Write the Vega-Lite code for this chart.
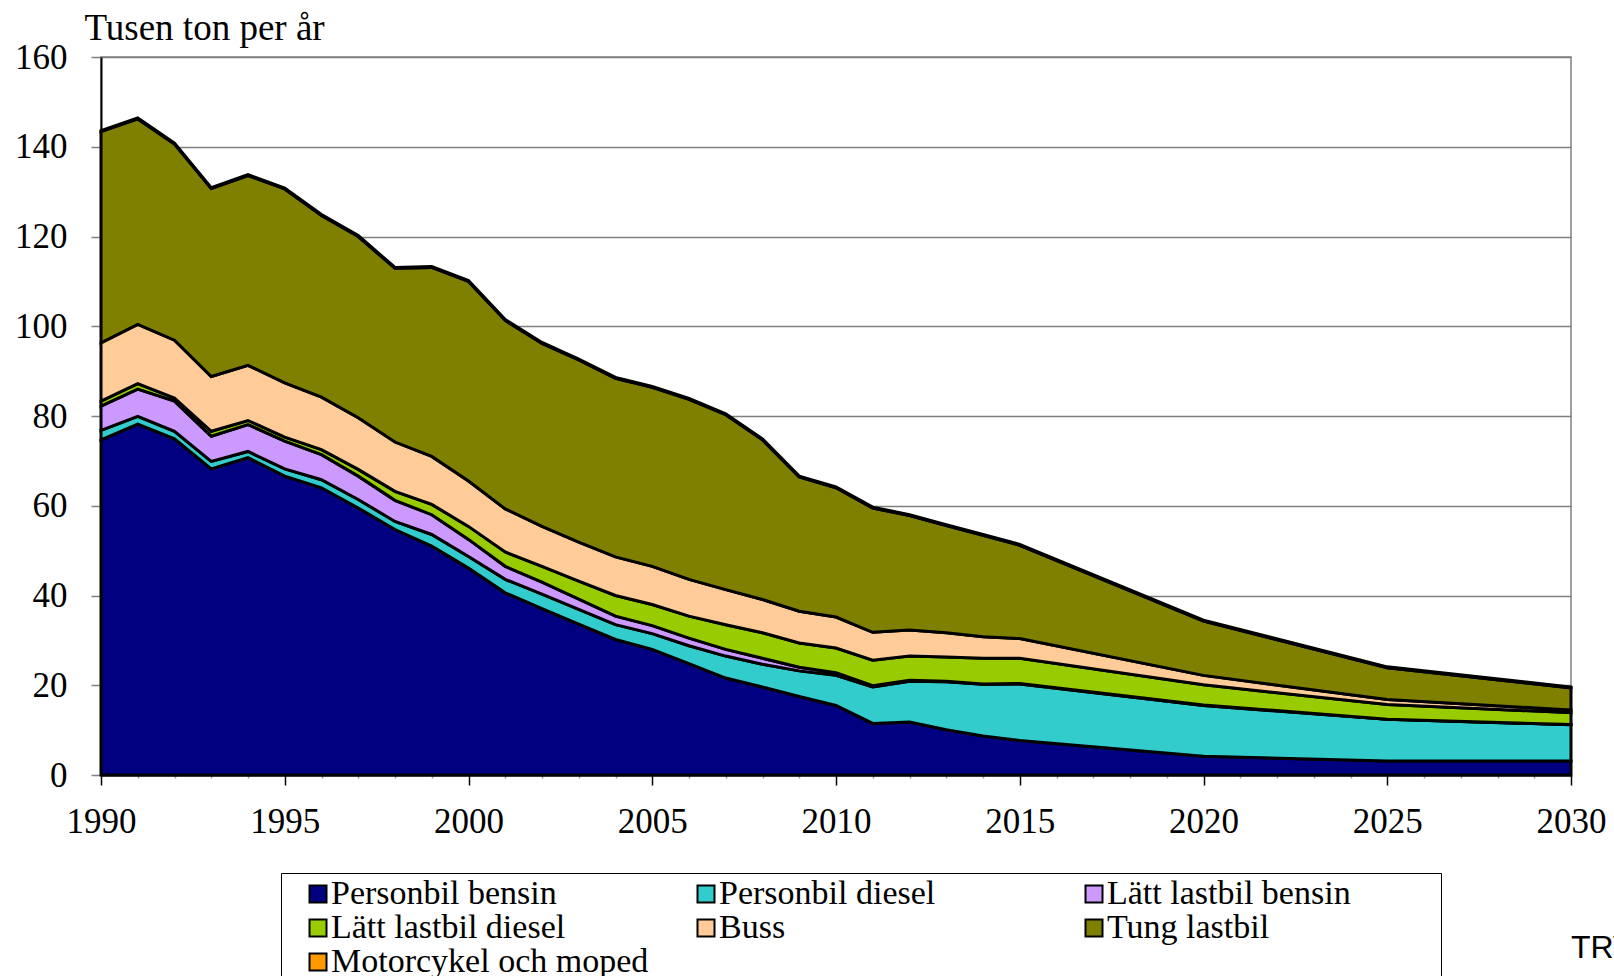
{
  "$schema": "https://vega.github.io/schema/vega-lite/v6.json",
  "autosize": {"type": "none"},
  "padding": {"left": 101, "top": 57, "right": 43, "bottom": 201},
  "width": 1470,
  "height": 718,
  "background": "white",
  "config": {
    "view": {"stroke": "#808080", "strokeWidth": 1.5},
    "font": "Liberation Serif"
  },
  "title": {"text": "TRV", "orient": "bottom", "anchor": "end", "align": "left", "font": "Liberation Sans", "fontSize": 32, "fontWeight": "normal", "color": "black", "dx": -35, "dy": -51, "offset": 0},
  "data": {"values": [
    {"year":1990,"typ":"Personbil bensin","v":74.7},{"year":1990,"typ":"Personbil diesel","v":2.1},{"year":1990,"typ":"Lätt lastbil bensin","v":5.4},{"year":1990,"typ":"Lätt lastbil diesel","v":1.1},{"year":1990,"typ":"Buss","v":13.0},{"year":1990,"typ":"Tung lastbil","v":47.1},{"year":1990,"typ":"Motorcykel och moped","v":0.2},
    {"year":1991,"typ":"Personbil bensin","v":78.2},{"year":1991,"typ":"Personbil diesel","v":1.7},{"year":1991,"typ":"Lätt lastbil bensin","v":6.1},{"year":1991,"typ":"Lätt lastbil diesel","v":1.2},{"year":1991,"typ":"Buss","v":13.2},{"year":1991,"typ":"Tung lastbil","v":45.8},{"year":1991,"typ":"Motorcykel och moped","v":0.2},
    {"year":1992,"typ":"Personbil bensin","v":74.9},{"year":1992,"typ":"Personbil diesel","v":1.7},{"year":1992,"typ":"Lätt lastbil bensin","v":6.7},{"year":1992,"typ":"Lätt lastbil diesel","v":0.7},{"year":1992,"typ":"Buss","v":12.9},{"year":1992,"typ":"Tung lastbil","v":43.7},{"year":1992,"typ":"Motorcykel och moped","v":0.2},
    {"year":1993,"typ":"Personbil bensin","v":68.2},{"year":1993,"typ":"Personbil diesel","v":1.7},{"year":1993,"typ":"Lätt lastbil bensin","v":5.6},{"year":1993,"typ":"Lätt lastbil diesel","v":1.1},{"year":1993,"typ":"Buss","v":12.2},{"year":1993,"typ":"Tung lastbil","v":41.9},{"year":1993,"typ":"Motorcykel och moped","v":0.2},
    {"year":1994,"typ":"Personbil bensin","v":70.7},{"year":1994,"typ":"Personbil diesel","v":1.4},{"year":1994,"typ":"Lätt lastbil bensin","v":6.0},{"year":1994,"typ":"Lätt lastbil diesel","v":0.9},{"year":1994,"typ":"Buss","v":12.3},{"year":1994,"typ":"Tung lastbil","v":42.3},{"year":1994,"typ":"Motorcykel och moped","v":0.2},
    {"year":1995,"typ":"Personbil bensin","v":66.6},{"year":1995,"typ":"Personbil diesel","v":1.6},{"year":1995,"typ":"Lätt lastbil bensin","v":6.2},{"year":1995,"typ":"Lätt lastbil diesel","v":0.9},{"year":1995,"typ":"Buss","v":12.1},{"year":1995,"typ":"Tung lastbil","v":43.2},{"year":1995,"typ":"Motorcykel och moped","v":0.2},
    {"year":1996,"typ":"Personbil bensin","v":64.0},{"year":1996,"typ":"Personbil diesel","v":1.8},{"year":1996,"typ":"Lätt lastbil bensin","v":5.6},{"year":1996,"typ":"Lätt lastbil diesel","v":1.1},{"year":1996,"typ":"Buss","v":11.7},{"year":1996,"typ":"Tung lastbil","v":40.5},{"year":1996,"typ":"Motorcykel och moped","v":0.2},
    {"year":1997,"typ":"Personbil bensin","v":59.5},{"year":1997,"typ":"Personbil diesel","v":1.9},{"year":1997,"typ":"Lätt lastbil bensin","v":5.2},{"year":1997,"typ":"Lätt lastbil diesel","v":1.5},{"year":1997,"typ":"Buss","v":11.5},{"year":1997,"typ":"Tung lastbil","v":40.4},{"year":1997,"typ":"Motorcykel och moped","v":0.2},
    {"year":1998,"typ":"Personbil bensin","v":54.7},{"year":1998,"typ":"Personbil diesel","v":1.8},{"year":1998,"typ":"Lätt lastbil bensin","v":4.7},{"year":1998,"typ":"Lätt lastbil diesel","v":2.0},{"year":1998,"typ":"Buss","v":11.0},{"year":1998,"typ":"Tung lastbil","v":38.7},{"year":1998,"typ":"Motorcykel och moped","v":0.2},
    {"year":1999,"typ":"Personbil bensin","v":51.0},{"year":1999,"typ":"Personbil diesel","v":2.6},{"year":1999,"typ":"Lätt lastbil bensin","v":4.4},{"year":1999,"typ":"Lätt lastbil diesel","v":2.3},{"year":1999,"typ":"Buss","v":10.7},{"year":1999,"typ":"Tung lastbil","v":42.1},{"year":1999,"typ":"Motorcykel och moped","v":0.2},
    {"year":2000,"typ":"Personbil bensin","v":46.1},{"year":2000,"typ":"Personbil diesel","v":2.6},{"year":2000,"typ":"Lätt lastbil bensin","v":3.8},{"year":2000,"typ":"Lätt lastbil diesel","v":2.9},{"year":2000,"typ":"Buss","v":10.1},{"year":2000,"typ":"Tung lastbil","v":44.5},{"year":2000,"typ":"Motorcykel och moped","v":0.2},
    {"year":2001,"typ":"Personbil bensin","v":40.6},{"year":2001,"typ":"Personbil diesel","v":3.0},{"year":2001,"typ":"Lätt lastbil bensin","v":2.9},{"year":2001,"typ":"Lätt lastbil diesel","v":3.2},{"year":2001,"typ":"Buss","v":9.6},{"year":2001,"typ":"Tung lastbil","v":42.0},{"year":2001,"typ":"Motorcykel och moped","v":0.2},
    {"year":2002,"typ":"Personbil bensin","v":37.1},{"year":2002,"typ":"Personbil diesel","v":3.2},{"year":2002,"typ":"Lätt lastbil bensin","v":2.7},{"year":2002,"typ":"Lätt lastbil diesel","v":3.5},{"year":2002,"typ":"Buss","v":8.9},{"year":2002,"typ":"Tung lastbil","v":40.8},{"year":2002,"typ":"Motorcykel och moped","v":0.2},
    {"year":2003,"typ":"Personbil bensin","v":33.6},{"year":2003,"typ":"Personbil diesel","v":3.3},{"year":2003,"typ":"Lätt lastbil bensin","v":2.3},{"year":2003,"typ":"Lätt lastbil diesel","v":4.0},{"year":2003,"typ":"Buss","v":8.7},{"year":2003,"typ":"Tung lastbil","v":40.6},{"year":2003,"typ":"Motorcykel och moped","v":0.2},
    {"year":2004,"typ":"Personbil bensin","v":30.2},{"year":2004,"typ":"Personbil diesel","v":3.3},{"year":2004,"typ":"Lätt lastbil bensin","v":1.9},{"year":2004,"typ":"Lätt lastbil diesel","v":4.6},{"year":2004,"typ":"Buss","v":8.6},{"year":2004,"typ":"Tung lastbil","v":39.8},{"year":2004,"typ":"Motorcykel och moped","v":0.2},
    {"year":2005,"typ":"Personbil bensin","v":28.0},{"year":2005,"typ":"Personbil diesel","v":3.5},{"year":2005,"typ":"Lätt lastbil bensin","v":1.8},{"year":2005,"typ":"Lätt lastbil diesel","v":4.7},{"year":2005,"typ":"Buss","v":8.5},{"year":2005,"typ":"Tung lastbil","v":39.9},{"year":2005,"typ":"Motorcykel och moped","v":0.2},
    {"year":2006,"typ":"Personbil bensin","v":24.8},{"year":2006,"typ":"Personbil diesel","v":4.0},{"year":2006,"typ":"Lätt lastbil bensin","v":1.7},{"year":2006,"typ":"Lätt lastbil diesel","v":4.9},{"year":2006,"typ":"Buss","v":8.2},{"year":2006,"typ":"Tung lastbil","v":40.1},{"year":2006,"typ":"Motorcykel och moped","v":0.2},
    {"year":2007,"typ":"Personbil bensin","v":21.6},{"year":2007,"typ":"Personbil diesel","v":4.9},{"year":2007,"typ":"Lätt lastbil bensin","v":1.5},{"year":2007,"typ":"Lätt lastbil diesel","v":5.5},{"year":2007,"typ":"Buss","v":7.8},{"year":2007,"typ":"Tung lastbil","v":39.0},{"year":2007,"typ":"Motorcykel och moped","v":0.2},
    {"year":2008,"typ":"Personbil bensin","v":19.6},{"year":2008,"typ":"Personbil diesel","v":5.1},{"year":2008,"typ":"Lätt lastbil bensin","v":1.3},{"year":2008,"typ":"Lätt lastbil diesel","v":5.7},{"year":2008,"typ":"Buss","v":7.4},{"year":2008,"typ":"Tung lastbil","v":35.6},{"year":2008,"typ":"Motorcykel och moped","v":0.2},
    {"year":2009,"typ":"Personbil bensin","v":17.5},{"year":2009,"typ":"Personbil diesel","v":5.7},{"year":2009,"typ":"Lätt lastbil bensin","v":0.8},{"year":2009,"typ":"Lätt lastbil diesel","v":5.4},{"year":2009,"typ":"Buss","v":7.1},{"year":2009,"typ":"Tung lastbil","v":29.9},{"year":2009,"typ":"Motorcykel och moped","v":0.2},
    {"year":2010,"typ":"Personbil bensin","v":15.5},{"year":2010,"typ":"Personbil diesel","v":6.7},{"year":2010,"typ":"Lätt lastbil bensin","v":0.6},{"year":2010,"typ":"Lätt lastbil diesel","v":5.5},{"year":2010,"typ":"Buss","v":6.9},{"year":2010,"typ":"Tung lastbil","v":28.8},{"year":2010,"typ":"Motorcykel och moped","v":0.2},
    {"year":2011,"typ":"Personbil bensin","v":11.5},{"year":2011,"typ":"Personbil diesel","v":8.1},{"year":2011,"typ":"Lätt lastbil bensin","v":0.3},{"year":2011,"typ":"Lätt lastbil diesel","v":5.7},{"year":2011,"typ":"Buss","v":6.2},{"year":2011,"typ":"Tung lastbil","v":27.7},{"year":2011,"typ":"Motorcykel och moped","v":0.2},
    {"year":2012,"typ":"Personbil bensin","v":11.8},{"year":2012,"typ":"Personbil diesel","v":9.1},{"year":2012,"typ":"Lätt lastbil bensin","v":0.2},{"year":2012,"typ":"Lätt lastbil diesel","v":5.4},{"year":2012,"typ":"Buss","v":5.8},{"year":2012,"typ":"Tung lastbil","v":25.5},{"year":2012,"typ":"Motorcykel och moped","v":0.2},
    {"year":2013,"typ":"Personbil bensin","v":10.1},{"year":2013,"typ":"Personbil diesel","v":10.7},{"year":2013,"typ":"Lätt lastbil bensin","v":0.1},{"year":2013,"typ":"Lätt lastbil diesel","v":5.4},{"year":2013,"typ":"Buss","v":5.4},{"year":2013,"typ":"Tung lastbil","v":23.9},{"year":2013,"typ":"Motorcykel och moped","v":0.2},
    {"year":2014,"typ":"Personbil bensin","v":8.7},{"year":2014,"typ":"Personbil diesel","v":11.5},{"year":2014,"typ":"Lätt lastbil bensin","v":0.1},{"year":2014,"typ":"Lätt lastbil diesel","v":5.7},{"year":2014,"typ":"Buss","v":4.8},{"year":2014,"typ":"Tung lastbil","v":22.6},{"year":2014,"typ":"Motorcykel och moped","v":0.2},
    {"year":2015,"typ":"Personbil bensin","v":7.7},{"year":2015,"typ":"Personbil diesel","v":12.6},{"year":2015,"typ":"Lätt lastbil bensin","v":0.1},{"year":2015,"typ":"Lätt lastbil diesel","v":5.6},{"year":2015,"typ":"Buss","v":4.4},{"year":2015,"typ":"Tung lastbil","v":20.8},{"year":2015,"typ":"Motorcykel och moped","v":0.2},
    {"year":2020,"typ":"Personbil bensin","v":4.2},{"year":2020,"typ":"Personbil diesel","v":11.3},{"year":2020,"typ":"Lätt lastbil bensin","v":0.1},{"year":2020,"typ":"Lätt lastbil diesel","v":4.5},{"year":2020,"typ":"Buss","v":2.1},{"year":2020,"typ":"Tung lastbil","v":12.1},{"year":2020,"typ":"Motorcykel och moped","v":0.2},
    {"year":2025,"typ":"Personbil bensin","v":3.1},{"year":2025,"typ":"Personbil diesel","v":9.3},{"year":2025,"typ":"Lätt lastbil bensin","v":0.05},{"year":2025,"typ":"Lätt lastbil diesel","v":3.25},{"year":2025,"typ":"Buss","v":1.1},{"year":2025,"typ":"Tung lastbil","v":7.1},{"year":2025,"typ":"Motorcykel och moped","v":0.2},
    {"year":2030,"typ":"Personbil bensin","v":3.1},{"year":2030,"typ":"Personbil diesel","v":8.1},{"year":2030,"typ":"Lätt lastbil bensin","v":0.05},{"year":2030,"typ":"Lätt lastbil diesel","v":2.65},{"year":2030,"typ":"Buss","v":0.6},{"year":2030,"typ":"Tung lastbil","v":4.9},{"year":2030,"typ":"Motorcykel och moped","v":0.2}
  ]},
  "transform": [
    {"calculate": "indexof(['Personbil bensin','Personbil diesel','Lätt lastbil bensin','Lätt lastbil diesel','Buss','Tung lastbil','Motorcykel och moped'], datum.typ)", "as": "stackorder"}
  ],
  "mark": {"type": "area", "stroke": "black", "strokeWidth": 3, "strokeJoin": "miter", "opacity": 1, "fillOpacity": 1},
  "encoding": {
    "x": {
      "field": "year", "type": "quantitative",
      "scale": {"domain": [1990, 2030], "nice": false, "zero": false},
      "axis": {
        "title": null,
        "grid": false,
        "values": [1990,1991,1992,1993,1994,1995,1996,1997,1998,1999,2000,2001,2002,2003,2004,2005,2006,2007,2008,2009,2010,2011,2012,2013,2014,2015,2016,2017,2018,2019,2020,2021,2022,2023,2024,2025,2026,2027,2028,2029,2030],
        "labelExpr": "datum.value % 5 === 0 ? datum.value : ''",
        "format": "d",
        "labelFont": "Liberation Serif",
        "labelFontSize": 35,
        "labelColor": "black",
        "labelBaseline": "alphabetic",
        "labelPadding": 47,
        "labelOverlap": false,
        "labelFlush": false,
        "domainColor": "black",
        "domainWidth": 2,
        "tickColor": {"condition": {"test": "datum.value % 5 === 0", "value": "black"}, "value": "#999999"},
        "tickSize": {"condition": {"test": "datum.value % 5 === 0", "value": 10}, "value": 3},
        "tickWidth": 1.5
      }
    },
    "y": {
      "field": "v", "type": "quantitative", "stack": "zero",
      "scale": {"domain": [0, 160], "nice": false},
      "axis": {
        "title": "Tusen ton per år",
        "titleAngle": 0,
        "titleAlign": "left",
        "titleBaseline": "alphabetic",
        "titleX": -17,
        "titleY": -18,
        "titleFont": "Liberation Serif",
        "titleFontSize": 37,
        "titleFontWeight": "normal",
        "titleColor": "black",
        "values": [0, 20, 40, 60, 80, 100, 120, 140, 160],
        "labelFont": "Liberation Serif",
        "labelFontSize": 35,
        "labelColor": "black",
        "labelPadding": 24,
        "labelFlush": false,
        "tickSize": 10,
        "tickColor": "#808080",
        "tickWidth": 1.5,
        "domainColor": "black",
        "domainWidth": 2,
        "grid": true,
        "gridColor": "#808080",
        "gridWidth": 1.5
      }
    },
    "order": {"field": "stackorder", "type": "quantitative", "sort": "ascending"},
    "color": {
      "field": "typ", "type": "nominal",
      "sort": ["Personbil bensin", "Personbil diesel", "Lätt lastbil bensin", "Lätt lastbil diesel", "Buss", "Tung lastbil", "Motorcykel och moped"],
      "scale": {
        "domain": ["Personbil bensin", "Personbil diesel", "Lätt lastbil bensin", "Lätt lastbil diesel", "Buss", "Tung lastbil", "Motorcykel och moped"],
        "range": ["#000080", "#33CCCC", "#CC99FF", "#99CC00", "#FFCC99", "#808000", "#FF9900"]
      },
      "legend": {
        "title": " ",
        "titleOrient": "right",
        "titlePadding": 86,
        "titleFontSize": 10,
        "titleLimit": 20,
        "orient": "none",
        "legendX": 180,
        "legendY": 816,
        "columns": 3,
        "direction": "horizontal",
        "gridAlign": "all",
        "columnPadding": 24,
        "rowPadding": 0,
        "padding": 4,
        "symbolOffset": 16,
        "strokeColor": "black",
        "fillColor": "white",
        "symbolType": "square",
        "symbolSize": 289,
        "symbolStrokeColor": "black",
        "symbolStrokeWidth": 2,
        "symbolOpacity": 1,
        "labelFont": "Liberation Serif",
        "labelFontSize": 34,
        "labelColor": "black",
        "labelOffset": -4,
        "labelLimit": 600
      }
    }
  }
}
